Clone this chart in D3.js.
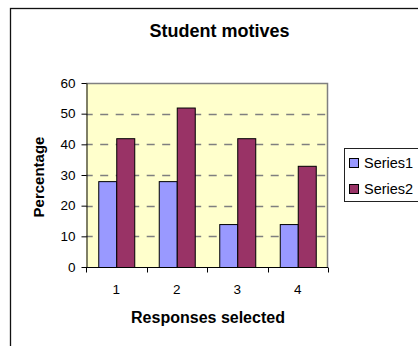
<!DOCTYPE html>
<html>
<head>
<meta charset="utf-8">
<script src="https://cdn.jsdelivr.net/npm/d3@7"></script>
<style>
  html, body { margin: 0; padding: 0; background: #fff; }
  svg { display: block; font-family: "Liberation Sans", Arial, sans-serif; }
</style>
</head>
<body>
<svg id="chart" width="418" height="346"></svg>
<script>
// Chart data
const categories = ["1", "2", "3", "4"];
const seriesNames = ["Series1", "Series2"];
const series1 = [28, 28, 14, 14];
const series2 = [42, 52, 42, 33];
const yTicks = [0, 10, 20, 30, 40, 50, 60];
const colors = ["#9999FF", "#993366"];

const svg = d3.select("#chart");

// Chart frame
svg.append("rect")
  .attr("x", 10.5).attr("y", 8.5)
  .attr("width", 420).attr("height", 350)
  .attr("fill", "#fff").attr("stroke", "#111").attr("stroke-width", 1.3);

// Plot area
const plot = { left: 86, right: 328, top: 83, bottom: 267 };

const x = d3.scaleBand().domain(categories).range([plot.left, plot.right]).paddingInner(0).paddingOuter(0);
const barW = 18;
const inner = d3.scaleBand().domain(seriesNames).range([0, barW * 2]);
const y = d3.scaleLinear().domain([0, 60]).range([plot.bottom, plot.top]);

svg.append("rect")
  .attr("x", plot.left).attr("y", plot.top)
  .attr("width", plot.right - plot.left).attr("height", plot.bottom - plot.top)
  .attr("fill", "#FFFFCC");

// Plot border (top and right)
svg.append("path")
  .attr("d", `M${plot.left},${plot.top + 0.5}H${plot.right - 0.5}V${plot.bottom}`)
  .attr("fill", "none").attr("stroke", "#808080").attr("stroke-width", 1.5);

// Dashed gridlines
svg.append("g").selectAll("line")
  .data(yTicks.filter(t => t > 0 && t < 60))
  .join("line")
  .attr("x1", plot.left).attr("x2", plot.right)
  .attr("y1", d => Math.round(y(d)) + 0.5).attr("y2", d => Math.round(y(d)) + 0.5)
  .attr("stroke", "#7f7f7f").attr("stroke-width", 1.5)
  .attr("stroke-dasharray", "8,7.5")
  .attr("stroke-dashoffset", 1.3);

// Bars
const data = categories.map((c, i) => ({ cat: c, values: [series1[i], series2[i]] }));
const groups = svg.append("g").selectAll("g")
  .data(data).join("g")
  .attr("transform", d => `translate(${x(d.cat) + x.bandwidth() / 2 - barW},0)`);
groups.selectAll("rect")
  .data(d => d.values.map((v, j) => ({ name: seriesNames[j], v, j })))
  .join("rect")
  .attr("x", d => inner(d.name) + 0.5)
  .attr("y", d => y(d.v) + 0.5)
  .attr("width", inner.bandwidth())
  .attr("height", d => y(0) - y(d.v))
  .attr("fill", d => colors[d.j])
  .attr("stroke", "#000").attr("stroke-width", 1);

// Y axis
const yAxis = svg.append("g")
  .attr("transform", `translate(${plot.left + 0.5},0)`)
  .call(d3.axisLeft(y).tickValues(yTicks).tickSize(5).tickPadding(6).tickSizeOuter(0));
yAxis.select(".domain").attr("stroke", "#000");
yAxis.selectAll(".tick line").attr("stroke", "#000");
yAxis.selectAll("text").attr("font-size", 13.5).attr("fill", "#000")
  .attr("font-family", "Liberation Sans, Arial, sans-serif");

// X axis: ticks at category boundaries
const xAxis = svg.append("g")
  .attr("transform", `translate(0,${plot.bottom + 0.5})`);
xAxis.append("line")
  .attr("x1", plot.left).attr("x2", plot.right)
  .attr("stroke", "#000");
const bounds = categories.map(c => x(c)).concat([x(categories[categories.length - 1]) + x.bandwidth()]);
xAxis.selectAll("line.tk").data(bounds).join("line").attr("class", "tk")
  .attr("x1", d => Math.round(d) + 0.5).attr("x2", d => Math.round(d) + 0.5)
  .attr("y1", 0).attr("y2", 5).attr("stroke", "#000");
xAxis.selectAll("text").data(categories).join("text")
  .attr("x", d => x(d) + x.bandwidth() / 2)
  .attr("y", 26.5)
  .attr("text-anchor", "middle")
  .attr("font-size", 13.5)
  .text(d => d);

// Titles
svg.append("text")
  .attr("x", 219.5).attr("y", 37)
  .attr("text-anchor", "middle")
  .attr("font-size", 18).attr("font-weight", "bold")
  .text("Student motives");

svg.append("text")
  .attr("x", 208).attr("y", 323)
  .attr("text-anchor", "middle")
  .attr("font-size", 16).attr("font-weight", "bold")
  .text("Responses selected");

svg.append("text")
  .attr("transform", `translate(44,177) rotate(-90)`)
  .attr("text-anchor", "middle")
  .attr("font-size", 15).attr("font-weight", "bold")
  .text("Percentage");

// Legend
const legend = svg.append("g");
legend.append("rect")
  .attr("x", 344.5).attr("y", 148.5)
  .attr("width", 90).attr("height", 53)
  .attr("fill", "#fff").attr("stroke", "#222").attr("stroke-width", 1);
const rows = legend.selectAll("g.row").data(seriesNames).join("g").attr("class", "row")
  .attr("transform", (d, i) => `translate(0,${163 + i * 26})`);
rows.append("rect")
  .attr("x", 349.5).attr("y", -4.5).attr("width", 9).attr("height", 9)
  .attr("fill", (d, i) => colors[i]).attr("stroke", "#000");
rows.append("text")
  .attr("x", 364).attr("y", 5)
  .attr("font-size", 14.5)
  .text(d => d);
</script>
</body>
</html>
